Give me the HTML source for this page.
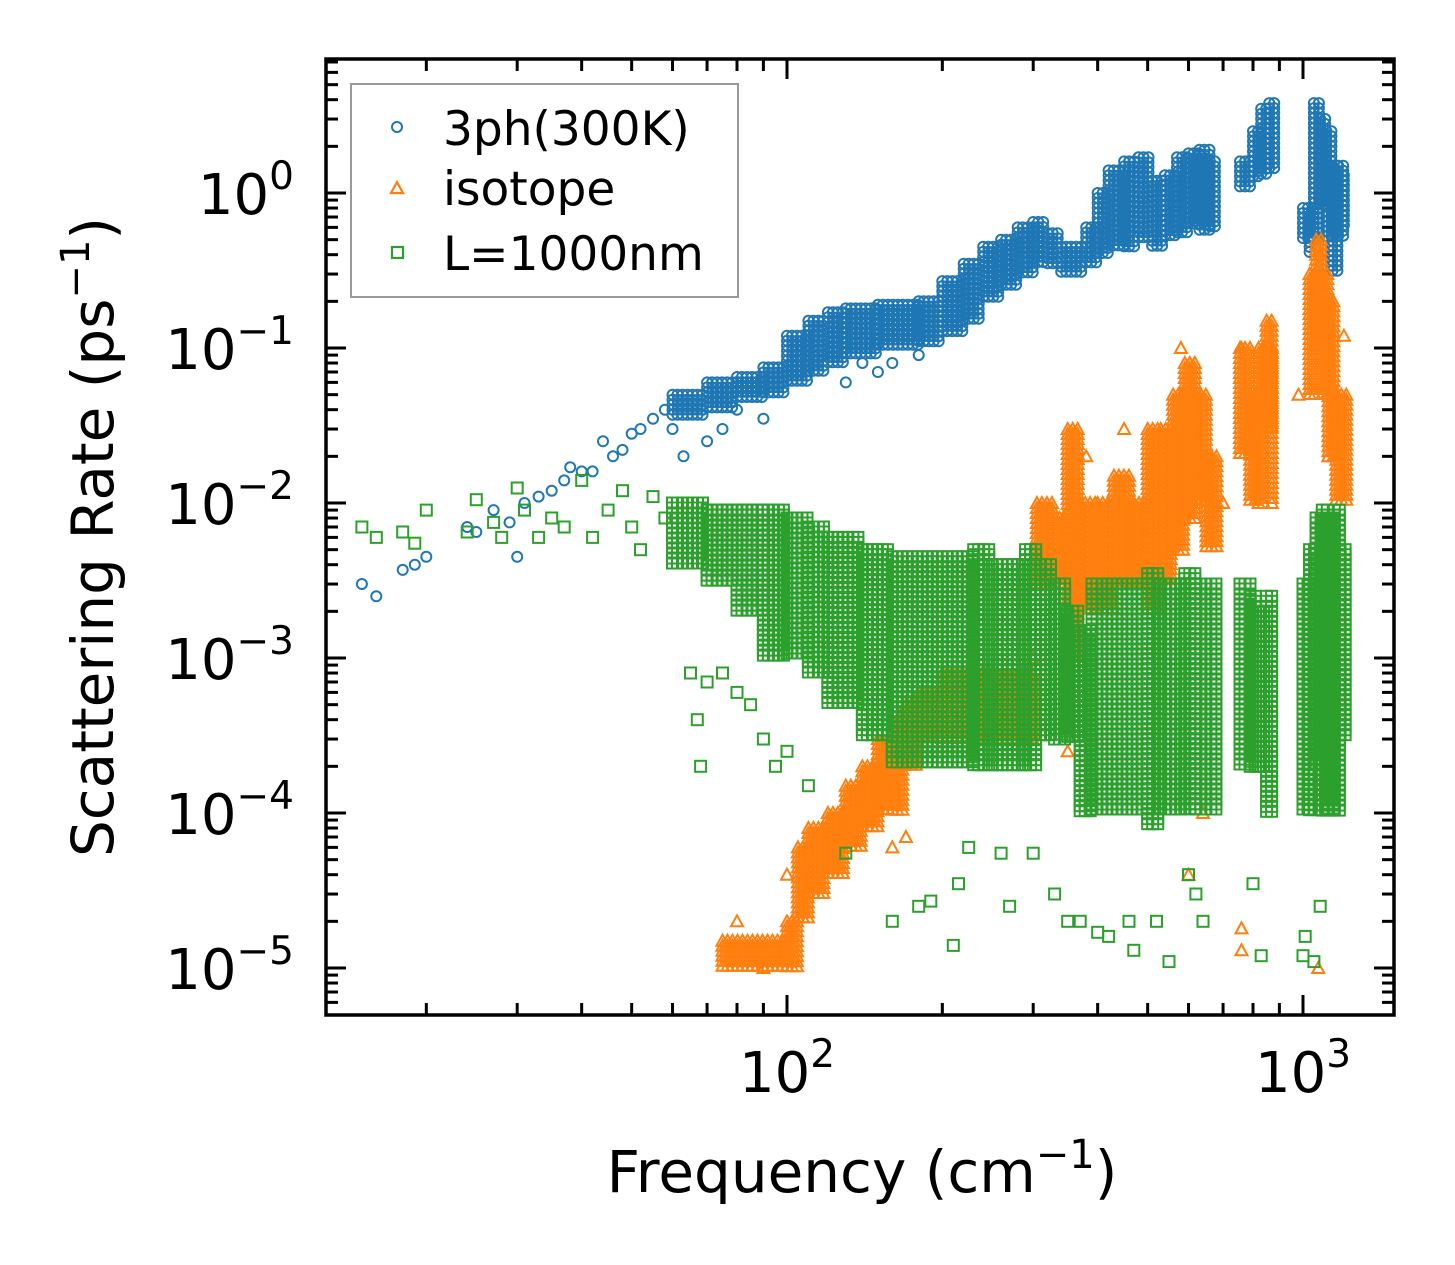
<!DOCTYPE html>
<html><head><meta charset="utf-8"><style>
html,body{margin:0;padding:0;background:#fff;}
svg{display:block;font-family:"DejaVu Sans","Liberation Sans",sans-serif;}
</style></head><body>
<svg id="chart" width="1455" height="1265" viewBox="0 0 1455 1265" xmlns="http://www.w3.org/2000/svg">
<rect width="1455" height="1265" fill="#fff"/>
<defs><clipPath id="plotclip"><rect x="326" y="59" width="1068" height="956"/></clipPath></defs>
<g id="marks" clip-path="url(#plotclip)"></g>
<g id="axes"></g>
<g>
<rect x="351" y="84" width="387" height="213" fill="#fff" fill-opacity="0.85" stroke="#999" stroke-width="2"/>
<circle cx="397" cy="127" r="5" fill="none" stroke="#1f77b4" stroke-width="2"/>
<text x="443" y="145" font-size="47">3ph(300K)</text>
<polygon points="397,182 403,193 391,193" fill="none" stroke="#ff7f0e" stroke-width="2.2"/>
<text x="443" y="205" font-size="47">isotope</text>
<rect x="392" y="247" width="11" height="11" fill="none" stroke="#2ca02c" stroke-width="2.2"/>
<text x="443" y="270" font-size="47">L=1000nm</text>
</g>
<text x="862" y="1192" font-size="58" text-anchor="middle">Frequency (cm<tspan font-size="40" dy="-24">−1</tspan><tspan dy="24">)</tspan></text>
<text transform="translate(113,537) rotate(-90)" font-size="58" text-anchor="middle">Scattering Rate (ps<tspan font-size="40" dy="-24">−1</tspan><tspan dy="24">)</tspan></text>
</svg>
<script>
// ---- data ----
const blueFreq = [15,16,18,19,20,24,25,27,29,30,31,33,35,37,38,40,42,44,46,48,50,52,55,58,60,63,70,75,80,90,130,140,150,160,180];
const blueRate = [0.003,0.0025,0.0037,0.004,0.0045,0.007,0.0065,0.009,0.0075,0.0045,0.01,0.011,0.012,0.014,0.017,0.016,0.016,0.025,0.02,0.022,0.028,0.03,0.035,0.04,0.03,0.02,0.025,0.03,0.04,0.035,0.06,0.08,0.07,0.08,0.09];
// dense clusters: [freqStart, freqEnd, rateLow, rateHigh]
const blueClusters = [[60,70,0.035,0.05],[70,80,0.04,0.06],[80,90,0.045,0.065],[90,100,0.05,0.075],[100,110,0.06,0.12],[110,120,0.07,0.15],[120,130,0.08,0.17],[130,150,0.09,0.18],[150,180,0.1,0.19],[180,200,0.11,0.2],[200,220,0.12,0.27],[220,240,0.15,0.35],[240,260,0.2,0.45],[260,280,0.25,0.5],[280,300,0.3,0.6],[300,320,0.35,0.65],[320,340,0.35,0.55],[340,380,0.3,0.45],[380,400,0.35,0.6],[400,420,0.4,1.0],[420,450,0.45,1.4],[450,480,0.45,1.6],[480,510,0.5,1.7],[510,540,0.45,1.2],[540,570,0.5,1.3],[570,600,0.55,1.7],[600,630,0.6,1.8],[630,660,0.55,1.9],[660,690,0.6,1.6],[755,800,1.1,1.6],[800,830,1.2,2.5],[830,860,1.3,3.5],[860,885,1.4,3.8],[1000,1030,0.5,0.8],[1030,1050,0.4,0.7],[1050,1080,0.5,3.8],[1080,1110,0.8,3],[1110,1140,0.5,2.5],[1140,1170,0.3,1.5],[1170,1200,0.5,1.5],[1200,1215,0.6,1.3]];
const orangeFreq = [80,90,100,120,160,170,300,350,600,640,760,760,1070,1080,1200,700,380,450,580,760,980];
const orangeRate = [2e-5,1e-5,4e-5,4.5e-5,6e-5,7e-5,1e-3,2.5e-4,4e-5,1e-4,1.8e-5,1.3e-5,1e-5,0.4,0.12,1e-2,0.02,0.03,0.1,0.1,0.05];
const orangeClusters = [[75,100,1e-5,1.5e-5],[100,105,1e-5,2e-5],[105,110,2e-5,6e-5],[110,120,3e-5,8e-5],[120,130,4e-5,1e-4],[130,140,6e-5,1.5e-4],[140,150,8e-5,2e-4],[150,160,1e-4,3e-4],[160,170,1e-4,4e-4],[170,180,2e-4,5e-4],[180,200,3e-4,6e-4],[200,300,3e-4,8e-4],[305,330,3e-3,1e-2],[330,350,3e-3,8e-3],[350,370,1e-3,3e-2],[370,400,2e-3,1e-2],[400,430,2e-3,1e-2],[430,460,3e-3,1.5e-2],[460,500,3e-3,1e-2],[500,530,2e-3,3e-2],[530,560,3e-3,3e-2],[560,590,5e-3,5e-2],[590,620,8e-3,8e-2],[620,650,1e-2,0.05],[650,690,5e-3,2e-2],[755,790,2e-2,0.1],[790,820,1e-2,0.05],[820,850,1e-2,0.1],[850,870,3e-2,0.15],[870,885,1e-2,0.1],[1030,1060,0.05,0.3],[1060,1090,0.1,0.5],[1090,1120,0.05,0.3],[1120,1160,0.02,0.2],[1160,1215,0.01,0.05]];
const greenFreq = [15,16,18,19,20,24,25,27,28,30,31,33,35,37,40,42,45,48,50,52,55,58,65,67,68,70,75,80,85,90,95,100,110,130,150,160,180,190,210,215,225,260,270,300,330,350,370,400,420,460,470,520,550,600,620,640,800,830,1000,1010,1050,1080];
const greenRate = [7e-3,6e-3,6.5e-3,5.5e-3,9e-3,6.5e-3,1.05e-2,7.5e-3,6e-3,1.25e-2,9e-3,6e-3,8e-3,7e-3,1.4e-2,6e-3,9e-3,1.2e-2,7e-3,5e-3,1.1e-2,8e-3,8e-4,4e-4,2e-4,7e-4,8e-4,6e-4,5e-4,3e-4,2e-4,2.5e-4,1.5e-4,5.5e-5,4e-4,2e-5,2.5e-5,2.7e-5,1.4e-5,3.5e-5,6e-5,5.5e-5,2.5e-5,5.5e-5,3e-5,2e-5,2e-5,1.7e-5,1.6e-5,2e-5,1.3e-5,2e-5,1.1e-5,4e-5,3e-5,2e-5,3.5e-5,1.2e-5,1.2e-5,1.6e-5,1.1e-5,2.5e-5];
const greenClusters = [[60,70,4e-3,1e-2],[70,80,3e-3,9e-3],[80,90,2e-3,9e-3],[90,100,1e-3,9e-3],[100,110,1e-3,8e-3],[110,120,8e-4,7e-3],[120,140,5e-4,6e-3],[140,160,3e-4,5e-3],[160,230,2e-4,4.5e-3],[230,250,2e-4,5e-3],[250,290,2e-4,4e-3],[290,310,2e-4,5e-3],[310,330,3e-4,4e-3],[330,350,3e-4,3e-3],[350,370,3e-4,2e-3],[370,390,1e-4,1.5e-3],[390,500,1e-4,3e-3],[500,530,8e-5,3.5e-3],[530,590,1e-4,3e-3],[590,620,1e-4,3.5e-3],[620,690,1e-4,3e-3],[755,790,2e-4,3e-3],[790,820,2e-4,2.5e-3],[820,850,2e-4,2e-3],[850,885,1e-4,2.5e-3],[1000,1030,1e-4,3e-3],[1030,1060,1e-4,5e-3],[1060,1090,2e-4,8e-3],[1090,1120,1e-4,9e-3],[1120,1150,1e-4,8e-3],[1150,1180,1e-4,9e-3],[1180,1215,3e-4,5e-3]];
const xTickExps = [2,3];
const yTickExps = [0,-1,-2,-3,-4,-5];

// ---- scales ----
const X2 = 787, XDEC = 516, Y0 = 193, YDEC = 155;
function sx(f){ return X2 + (Math.log10(f)-2)*XDEC; }
function sy(r){ return Y0 - Math.log10(r)*YDEC; }
const NS = 'http://www.w3.org/2000/svg';
const marks = document.getElementById('marks');
const axes = document.getElementById('axes');
const colors = {blue:'#1f77b4', orange:'#ff7f0e', green:'#2ca02c'};

function marker(g, kind, x, y){
  let el;
  if(kind==='blue'){ el=document.createElementNS(NS,'circle'); el.setAttribute('cx',x.toFixed(1)); el.setAttribute('cy',y.toFixed(1)); el.setAttribute('r','5'); }
  else if(kind==='orange'){ el=document.createElementNS(NS,'polygon'); el.setAttribute('points',`${x.toFixed(1)},${(y-6).toFixed(1)} ${(x+6).toFixed(1)},${(y+5).toFixed(1)} ${(x-6).toFixed(1)},${(y+5).toFixed(1)}`); }
  else { el=document.createElementNS(NS,'rect'); el.setAttribute('x',(x-5.5).toFixed(1)); el.setAttribute('y',(y-5.5).toFixed(1)); el.setAttribute('width','11'); el.setAttribute('height','11'); }
  
  
  g.appendChild(el);
}
function series(kind, fr, rt, clusters){
  const g=document.createElementNS(NS,'g');
  
  
  g.setAttribute('fill','none'); g.setAttribute('stroke',colors[kind]); g.setAttribute('stroke-width','2');
  marks.appendChild(g);
  clusters.forEach(c=>{
    const x1=sx(c[0]), x2=sx(c[1]), yT=sy(c[3]), yB=sy(c[2]);
    for(let x=x1; x<=x2; x+=5){ for(let y=yT; y<=yB; y+=5){ marker(g,kind,x,y); } }
  });
  fr.forEach((f,i)=>marker(g,kind,sx(f),sy(rt[i])));
}
series('blue', blueFreq, blueRate, blueClusters);
series('orange', orangeFreq, orangeRate, orangeClusters);
series('green', greenFreq, greenRate, greenClusters);

// ---- axes ----
function line(x1,y1,x2,y2,w,name){
  const l=document.createElementNS(NS,'line');
  l.setAttribute('x1',x1); l.setAttribute('y1',y1); l.setAttribute('x2',x2); l.setAttribute('y2',y2);
  l.setAttribute('stroke','#000'); l.setAttribute('stroke-width',w);
  
  
  axes.appendChild(l);
}
const L=326,R=1394,T=59,B=1015;
for(let d=1; d<=3; d++){
  for(let m=1;m<=9;m++){
    const f=m*Math.pow(10,d); const x=sx(f);
    if(x<L+2||x>R-2) continue;
    const len = m===1?20:12;
    line(x,B,x,B-len,3,'x-tick'); line(x,T,x,T+len,3,'x-tick');
  }
}
for(let d=-6; d<=0; d++){
  for(let m=1;m<=9;m++){
    const r=m*Math.pow(10,d); const y=sy(r);
    if(y<T+2||y>B-2) continue;
    const len = m===1?20:12;
    line(L,y,L+len,y,3,'y-tick'); line(R,y,R-len,y,3,'y-tick');
  }
}
const frame=document.createElementNS(NS,'rect');
frame.setAttribute('x',L); frame.setAttribute('y',T); frame.setAttribute('width',R-L); frame.setAttribute('height',B-T);
frame.setAttribute('fill','none'); frame.setAttribute('stroke','#000'); frame.setAttribute('stroke-width','3.5');


axes.appendChild(frame);
function label(x,y,anchor,exp,name){
  const t=document.createElementNS(NS,'text');
  t.setAttribute('x',x); t.setAttribute('y',y); t.setAttribute('text-anchor',anchor); t.setAttribute('font-size','56');
  
  
  const e = exp<0 ? '−'+(-exp) : ''+exp;
  t.innerHTML = '10<tspan font-size="39" dy="-25">'+e+'</tspan>';
  axes.appendChild(t);
}
xTickExps.forEach(e=>label(sx(Math.pow(10,e)),1092,'middle',e,'x-tick-label'));
yTickExps.forEach(e=>label(294,sy(Math.pow(10,e))+21,'end',e,'y-tick-label'));
</script>
</body></html>
